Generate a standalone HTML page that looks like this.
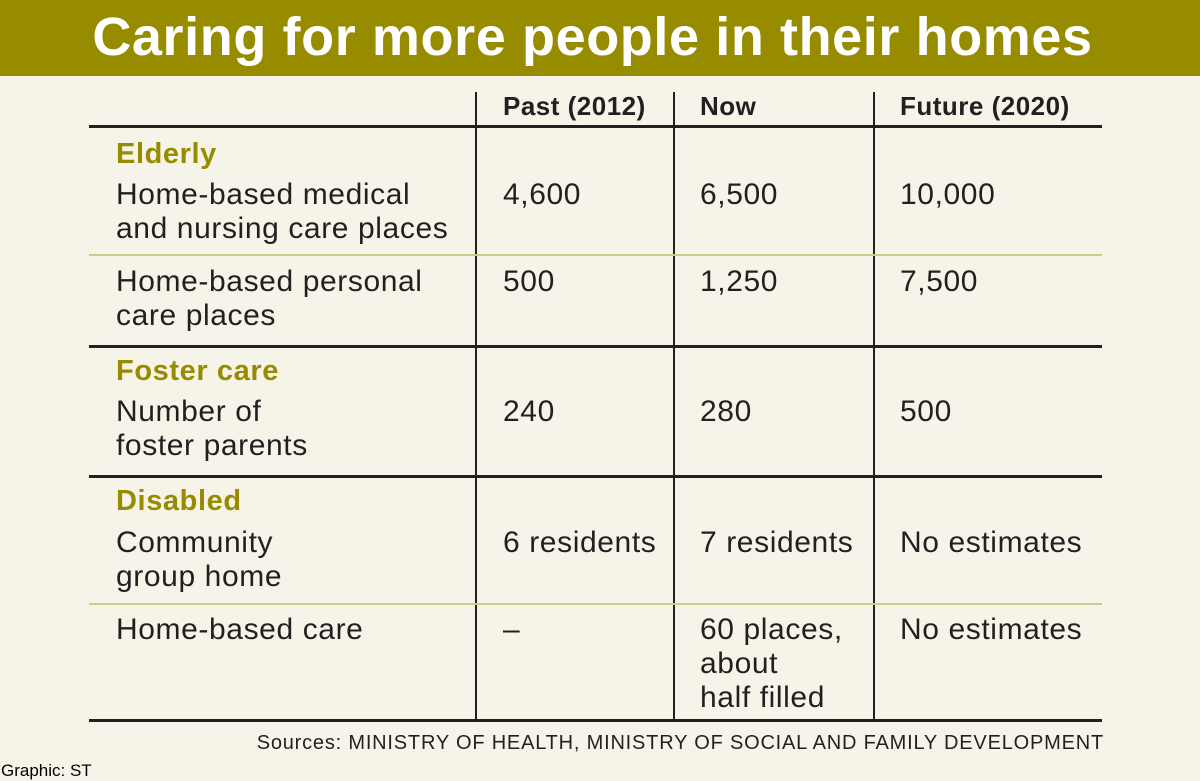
<!DOCTYPE html>
<html><head><meta charset="utf-8"><style>
body{margin:0;width:1200px;height:781px;background:#f6f4e8;position:relative;overflow:hidden;font-family:"Liberation Sans",sans-serif;color:#231f20}
.t{position:absolute;font-size:30px;letter-spacing:0.6px;line-height:34px;white-space:nowrap}
.h{position:absolute;font-size:26px;font-weight:bold;line-height:30px;letter-spacing:0.5px}
.c{position:absolute;font-size:29px;font-weight:bold;color:#978c00;line-height:34px;letter-spacing:0.6px}
.r{position:absolute;left:89px;width:1013px}
.v{position:absolute;width:2px;background:#231f20;top:92px;height:628px}
</style></head><body>
<div style="position:absolute;left:0;top:0;width:1200px;height:76px;background:#978c00"></div>
<div style="position:absolute;left:0;top:7px;width:1185px;text-align:center;color:#fff;font-weight:bold;font-size:54px;letter-spacing:0.6px;line-height:60px;white-space:nowrap">Caring for more people in their homes</div>
<div class="v" style="left:475px"></div>
<div class="v" style="left:673px"></div>
<div class="v" style="left:873px"></div>
<div class="h" style="left:503px;top:91px">Past (2012)</div>
<div class="h" style="left:700px;top:91px">Now</div>
<div class="h" style="left:900px;top:91px">Future (2020)</div>
<div class="r" style="top:125px;height:3px;background:#231f20"></div>
<div class="c" style="left:116px;top:137px">Elderly</div>
<div class="t" style="left:116px;top:178px">Home-based medical<br>and nursing care places</div>
<div class="t" style="left:503px;top:178px">4,600</div>
<div class="t" style="left:700px;top:178px">6,500</div>
<div class="t" style="left:900px;top:178px">10,000</div>
<div class="r" style="top:254px;height:2px;background:#cfc98e"></div>
<div class="t" style="left:116px;top:265px">Home-based personal<br>care places</div>
<div class="t" style="left:503px;top:265px">500</div>
<div class="t" style="left:700px;top:265px">1,250</div>
<div class="t" style="left:900px;top:265px">7,500</div>
<div class="r" style="top:345px;height:3px;background:#231f20"></div>
<div class="c" style="left:116px;top:354px">Foster care</div>
<div class="t" style="left:116px;top:395px">Number of<br>foster parents</div>
<div class="t" style="left:503px;top:395px">240</div>
<div class="t" style="left:700px;top:395px">280</div>
<div class="t" style="left:900px;top:395px">500</div>
<div class="r" style="top:475px;height:3px;background:#231f20"></div>
<div class="c" style="left:116px;top:484px">Disabled</div>
<div class="t" style="left:116px;top:526px">Community<br>group home</div>
<div class="t" style="left:503px;top:526px">6 residents</div>
<div class="t" style="left:700px;top:526px">7 residents</div>
<div class="t" style="left:900px;top:526px">No estimates</div>
<div class="r" style="top:603px;height:2px;background:#cfc98e"></div>
<div class="t" style="left:116px;top:613px">Home-based care</div>
<div class="t" style="left:503px;top:613px">–</div>
<div class="t" style="left:700px;top:613px">60 places,<br>about<br>half filled</div>
<div class="t" style="left:900px;top:613px">No estimates</div>
<div class="r" style="top:719px;height:3px;background:#231f20"></div>
<div style="position:absolute;right:96px;top:731px;font-size:20px;letter-spacing:0.8px;line-height:24px;white-space:nowrap">Sources: MINISTRY OF HEALTH, MINISTRY OF SOCIAL AND FAMILY DEVELOPMENT</div>
<div style="position:absolute;left:1px;top:761px;font-size:17px;line-height:20px;color:#000">Graphic: ST</div>
</body></html>
